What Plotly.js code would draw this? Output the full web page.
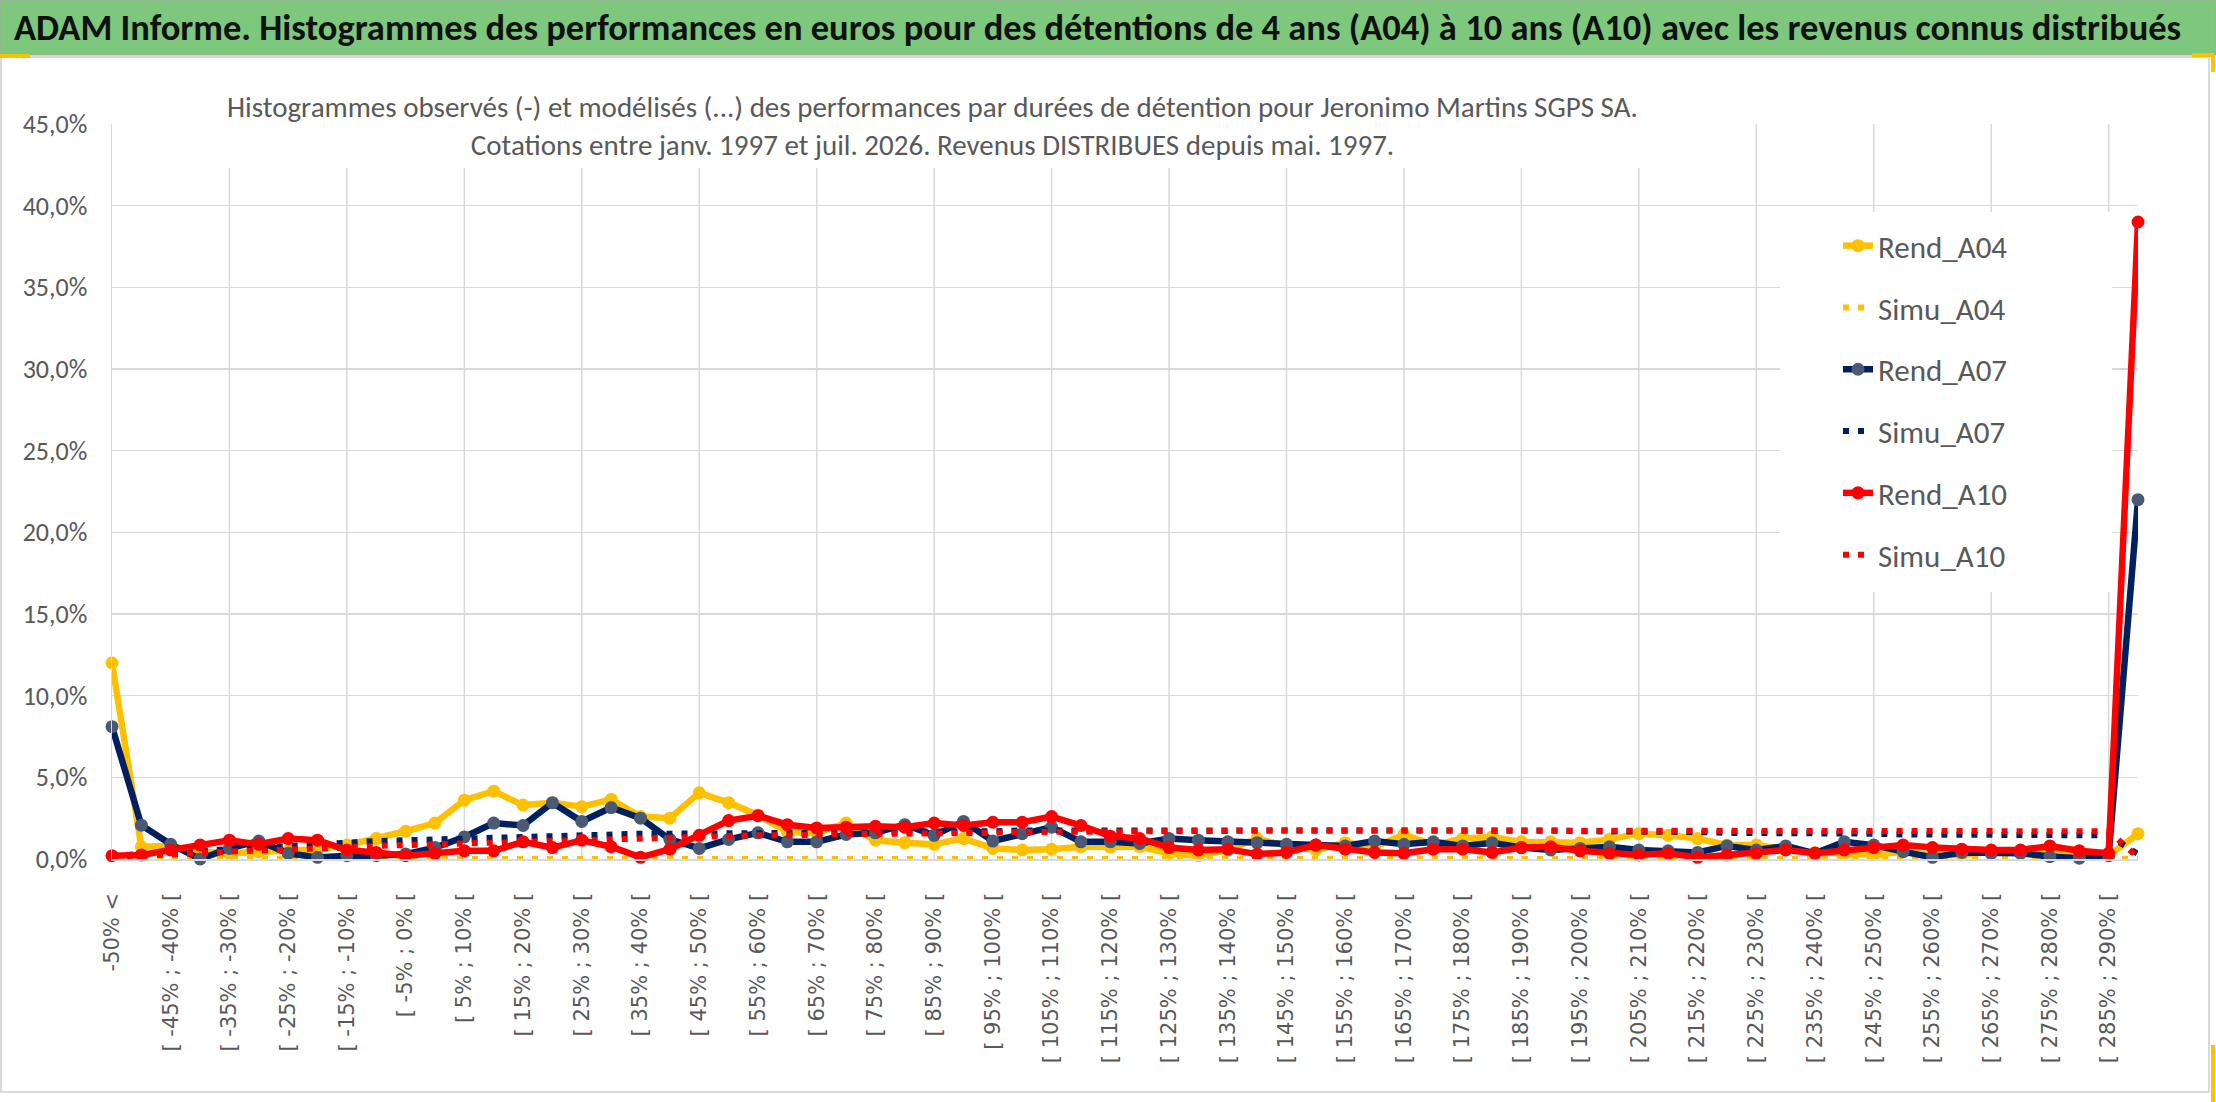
<!DOCTYPE html>
<html>
<head>
<meta charset="utf-8">
<script src="https://cdn.plot.ly/plotly-3.0.1.min.js"></script>
<style>
  html, body { margin: 0; padding: 0; background: #ffffff; }
  #chart { width: 2216px; height: 1102px; }
</style>
</head>
<body>
<div id="chart"></div>
<script>
// categories: "-50% <", then 5% bins up to 290%, then the open bin
let categories = ["-50% <"];
for (let lo = -50; lo < 290; lo += 5) {
    categories.push("[ " + lo + "% ; " + (lo + 5) + "% [");
}
categories.push("> 290%");

// values, in %
const rend_A04 = [
    12.0, 0.75, 0.8, 0.45, 0.35, 0.45, 0.5, 0.6, 0.85, 1.25,
    1.7, 2.2, 3.6, 4.15, 3.3, 3.45, 3.2, 3.65, 2.6, 2.5,
    4.05, 3.45, 2.7, 1.65, 1.6, 2.2, 1.15, 1.0, 0.9, 1.25,
    0.65, 0.55, 0.6, 0.75, 0.72, 0.75, 0.35, 0.2, 0.55, 1.25,
    0.8, 0.55, 1.0, 0.75, 1.5, 0.85, 1.25, 1.35, 1.05, 1.05,
    1.0, 1.2, 1.55, 1.45, 1.25, 0.85, 0.85, 0.6, 0.4, 0.35,
    0.25, 0.45, 0.25, 0.25, 0.45, 0.35, 0.55, 0.35, 0.2, 1.55
];
const simu_A04 = [
    0, 0, 0, 0, 0, 0, 0, 0, 0, 0,
    0, 0, 0, 0, 0, 0, 0, 0, 0, 0,
    0, 0, 0, 0, 0, 0, 0, 0, 0, 0,
    0, 0, 0, 0, 0, 0, 0, 0, 0, 0,
    0, 0, 0, 0, 0, 0, 0, 0, 0, 0,
    0, 0, 0, 0, 0, 0, 0, 0, 0, 0,
    0, 0, 0, 0, 0, 0, 0, 0, 0, 0
];
const rend_A07 = [
    8.1, 2.07, 0.9, 0.0, 0.65, 1.1, 0.35, 0.1, 0.2, 0.2,
    0.3, 0.7, 1.35, 2.2, 2.05, 3.45, 2.3, 3.15, 2.5, 1.2,
    0.65, 1.2, 1.6, 1.05, 1.05, 1.5, 1.6, 2.1, 1.45, 2.3,
    1.1, 1.55, 1.95, 1.05, 1.05, 0.95, 1.25, 1.15, 1.05, 1.0,
    0.9, 0.85, 0.8, 1.1, 0.9, 1.05, 0.8, 1.0, 0.7, 0.55,
    0.65, 0.75, 0.55, 0.5, 0.4, 0.8, 0.55, 0.8, 0.35, 1.05,
    0.85, 0.45, 0.1, 0.4, 0.35, 0.35, 0.15, 0.05, 0.2, 22.0
];
const simu_A07 = [
    0.2, 0.3, 0.45, 0.55, 0.65, 0.75, 0.85, 0.9, 1.0, 1.1,
    1.15, 1.2, 1.3, 1.35, 1.4, 1.45, 1.5, 1.5, 1.55, 1.55,
    1.55, 1.6, 1.6, 1.6, 1.6, 1.65, 1.65, 1.65, 1.7, 1.7,
    1.7, 1.75, 1.75, 1.75, 1.75, 1.8, 1.8, 1.8, 1.8, 1.8,
    1.8, 1.8, 1.8, 1.8, 1.75, 1.75, 1.75, 1.75, 1.75, 1.75,
    1.7, 1.7, 1.7, 1.65, 1.65, 1.6, 1.6, 1.6, 1.55, 1.55,
    1.55, 1.5, 1.5, 1.5, 1.5, 1.45, 1.45, 1.45, 1.45, 0.3
];
const rend_A10 = [
    0.2, 0.25, 0.55, 0.85, 1.15, 0.9, 1.25, 1.15, 0.55, 0.4,
    0.2, 0.35, 0.5, 0.5, 1.05, 0.7, 1.15, 0.75, 0.1, 0.6,
    1.45, 2.35, 2.65, 2.1, 1.9, 1.95, 2.0, 1.95, 2.2, 2.05,
    2.25, 2.25, 2.6, 2.05, 1.4, 1.25, 0.7, 0.55, 0.6, 0.3,
    0.4, 0.85, 0.6, 0.4, 0.35, 0.6, 0.6, 0.4, 0.7, 0.75,
    0.5, 0.35, 0.25, 0.35, 0.1, 0.25, 0.35, 0.55, 0.35, 0.55,
    0.7, 0.85, 0.7, 0.6, 0.55, 0.55, 0.8, 0.5, 0.35, 39.0
];
const simu_A10 = [
    0.15, 0.2, 0.3, 0.35, 0.45, 0.5, 0.6, 0.65, 0.7, 0.8,
    0.85, 0.9, 1.0, 1.05, 1.1, 1.15, 1.2, 1.2, 1.25, 1.3,
    1.35, 1.4, 1.45, 1.45, 1.5, 1.5, 1.55, 1.55, 1.55, 1.6,
    1.6, 1.65, 1.65, 1.7, 1.7, 1.7, 1.72, 1.72, 1.72, 1.75,
    1.75, 1.75, 1.75, 1.75, 1.75, 1.75, 1.75, 1.75, 1.75, 1.75,
    1.75, 1.75, 1.72, 1.72, 1.72, 1.7, 1.7, 1.7, 1.7, 1.7,
    1.7, 1.7, 1.7, 1.7, 1.7, 1.7, 1.7, 1.7, 1.7, 0.1
];

const yTicks = [0, 5, 10, 15, 20, 25, 30, 35, 40, 45];
const yTickText = yTicks.map(function (v) { return v.toFixed(1).replace(".", ",") + "%"; });

const mainTitle = "ADAM Informe. Histogrammes des performances en euros pour des détentions de 4 ans (A04) à 10 ans (A10) avec les revenus connus distribués";
const subTitle = "Histogrammes observés (-) et modélisés (...) des performances par durées de détention pour Jeronimo Martins SGPS SA.<br>Cotations entre janv. 1997 et juil. 2026. Revenus DISTRIBUES depuis mai. 1997.";

// plot box in pixels
const L = 112, R = 2138, T = 124, B = 859;
function px(x) { return (x - L) / (R - L); }
function py(y) { return (B - y) / (B - T); }

const YELLOW = "#FFC000", NAVY = "#002060", RED = "#FF0000";
const FONT = "Carlito, Lato, 'Liberation Sans', sans-serif";

function solid(name, y, color, markerColor) {
    return {
        x: categories, y: y, name: name, type: "scatter", mode: "lines+markers",
        line: {color: color, width: 6.5},
        marker: {color: markerColor, size: 13},
        cliponaxis: false, legendgroup: name
    };
}
function dotted(name, y, color) {
    return {
        x: categories, y: y, name: name, type: "scatter", mode: "lines",
        line: {color: color, width: 6, dash: "6px,9px"},
        cliponaxis: false, legendgroup: name
    };
}

let data = [
    solid("Rend_A04", rend_A04, YELLOW, YELLOW),
    dotted("Simu_A04", simu_A04, YELLOW),
    solid("Rend_A07", rend_A07, NAVY, "#4A5A75"),
    dotted("Simu_A07", simu_A07, NAVY),
    solid("Rend_A10", rend_A10, RED, RED),
    dotted("Simu_A10", simu_A10, RED)
];

// vertical grid every 4 categories
let shapes = [];
for (let i = 4; i < categories.length; i += 4) {
    shapes.push({type: "line", xref: "x", yref: "y", x0: i, x1: i, y0: 0, y1: 45,
        line: {color: "#d9d9d9", width: 1.5}, layer: "below"});
}
// white boxes behind subtitle and legend
shapes.push({type: "rect", xref: "paper", yref: "paper",
    x0: px(212), x1: px(1653), y0: py(168), y1: py(86),
    fillcolor: "#ffffff", line: {width: 0}, layer: "above"});
shapes.push({type: "rect", xref: "paper", yref: "paper",
    x0: px(1780), x1: px(2112), y0: py(592), y1: py(212),
    fillcolor: "#ffffff", line: {width: 0}, layer: "above"});
// frame, green header, yellow handles
shapes.push({type: "rect", xref: "paper", yref: "paper",
    x0: px(1), x1: px(2209), y0: py(1092), y1: py(57),
    fillcolor: "rgba(0,0,0,0)", line: {color: "#d9d9d9", width: 2}, layer: "below"});
shapes.push({type: "rect", xref: "paper", yref: "paper",
    x0: px(0), x1: px(2216), y0: py(55), y1: py(0),
    fillcolor: "#7DC87D", line: {color: "#a6a6a6", width: 1}, layer: "below"});
const handles = [[0, 56, 30, 56], [2192, 55, 2214, 55], [2213, 55, 2213, 72], [2213, 1045, 2213, 1102]];
handles.forEach(function (h) {
    shapes.push({type: "line", xref: "paper", yref: "paper",
        x0: px(h[0]), y0: py(h[1]), x1: px(h[2]), y1: py(h[3]),
        line: {color: YELLOW, width: 4}, layer: "above"});
});

let layout = {
    width: 2216, height: 1102,
    margin: {l: L, r: 2216 - R, t: T, b: 1102 - B, pad: 0},
    paper_bgcolor: "#ffffff", plot_bgcolor: "#ffffff",
    showlegend: true,
    legend: {
        x: px(1838), y: py(219), xanchor: "left", yanchor: "top",
        bgcolor: "rgba(0,0,0,0)", borderwidth: 0,
        font: {family: FONT, size: 31, color: "#595959"},
        tracegroupgap: 18.5
    },
    xaxis: {
        type: "category", categoryorder: "array", categoryarray: categories,
        range: [0, categories.length - 1],
        tickmode: "array",
        tickvals: categories.filter(function (c, i) { return i % 2 === 0; }),
        tickangle: -90, ticks: "", ticklabelstandoff: 24,
        tickfont: {family: "'DejaVu Sans', Verdana, sans-serif", size: 21, color: "#595959"},
        showgrid: false, zeroline: false, showline: true, linecolor: "#d9d9d9", linewidth: 1.5,
        automargin: false, fixedrange: true
    },
    yaxis: {
        range: [0, 45], tickmode: "array", tickvals: yTicks, ticktext: yTickText,
        tickfont: {family: FONT, size: 26, color: "#595959"},
        ticks: "", ticklabelstandoff: 18,
        showgrid: true, gridcolor: "#d9d9d9", gridwidth: 1.5,
        zeroline: true, zerolinecolor: "#d9d9d9", zerolinewidth: 1.5,
        showline: true, linecolor: "#d9d9d9", linewidth: 1.5,
        automargin: false, fixedrange: true
    },
    shapes: shapes,
    annotations: [
        {xref: "paper", yref: "paper", x: px(12), y: py(28), xanchor: "left", yanchor: "middle",
         text: "<b>" + mainTitle + "</b>", showarrow: false,
         font: {family: FONT, size: 36.5, color: "#111111"}},
        {xref: "paper", yref: "paper", x: px(932), y: py(126), xanchor: "center", yanchor: "middle",
         text: subTitle, showarrow: false, align: "center",
         font: {family: FONT, size: 29, color: "#595959"}}
    ]
};

Plotly.newPlot("chart", data, layout, {displayModeBar: false, staticPlot: true});
</script>
</body>
</html>
